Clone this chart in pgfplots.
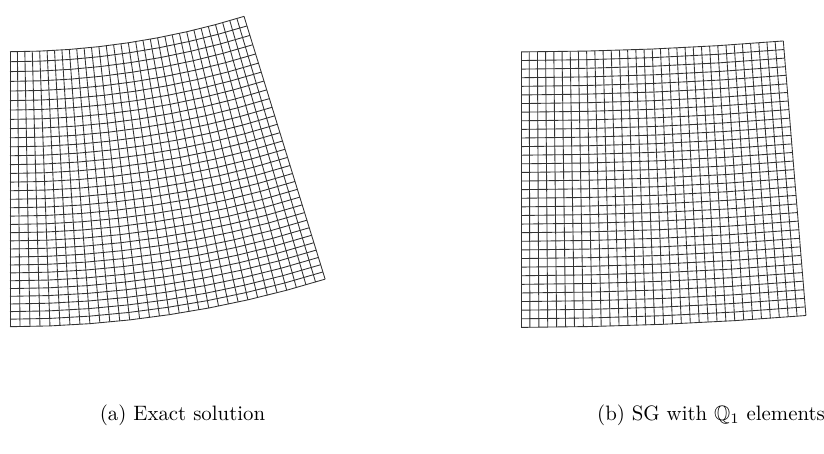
\documentclass[border=0pt]{standalone}
\usepackage{amssymb}
\usepackage{pgfplots}
\pgfplotsset{compat=1.18}
\begin{document}
\begin{tikzpicture}
\pgfplotsset{meshax/.style={at={(0,0)},anchor=south west,scale only axis,width=395.52pt,height=217.44pt,hide axis,clip=false},
 gl/.style={black!80,line width=0.42pt,mark=none,data cs=polar}}
% (a) exact solution: radial lines and rings (polar: angle in degrees, radius in px)
\begin{axis}[meshax,xmin=-10,xmax=814,ymin=-1195,ymax=-742]
\pgfplotsinvokeforeach{-90,-89.4641,-88.9281,-88.3922,-87.8563,-87.3203,-86.7844,-86.2484,-85.7125,-85.1766,-84.6406,-84.1047,-83.5688,-83.0328,-82.4969,-81.9609,-81.4250,-80.8891,-80.3531,-79.8172,-79.2813,-78.7453,-78.2094,-77.6734,-77.1375,-76.6016,-76.0656,-75.5297,-74.9938,-74.4578,-73.9219,-73.3859,-72.8500}{
\addplot[gl] coordinates {(#1,793.7) (#1,1068.7)};}
\pgfplotsinvokeforeach{793.70,803.72,813.62,823.39,833.05,842.61,852.05,861.39,870.63,879.78,888.83,897.78,906.65,915.44,924.14,932.76,941.30,949.76,958.15,966.47,974.71,982.89,990.99,999.04,1007.02,1014.93,1022.79,1030.58,1038.32,1045.99,1053.62,1061.19,1068.70}{
\addplot[gl] coordinates {(-90,#1) (-87.8563,#1) (-85.7125,#1) (-83.5688,#1) (-81.4250,#1) (-79.2813,#1) (-77.1375,#1) (-74.9938,#1) (-72.8500,#1)};}
\end{axis}
% (b) SG with Q1 elements
\begin{axis}[meshax,xmin=-521,xmax=303,ymin=-3593.6,ymax=-3140.6]
\pgfplotsinvokeforeach{-90,-89.8527,-89.7054,-89.5581,-89.4109,-89.2636,-89.1163,-88.9690,-88.8218,-88.6745,-88.5272,-88.3799,-88.2326,-88.0853,-87.9381,-87.7908,-87.6435,-87.4962,-87.3489,-87.2016,-87.0544,-86.9071,-86.7598,-86.6125,-86.4653,-86.3180,-86.1707,-86.0234,-85.8761,-85.7288,-85.5816,-85.4343,-85.2870}{
\addplot[gl] coordinates {(#1,3192.5) (#1,3468.0)};}
\pgfplotsinvokeforeach{3192.50,3201.11,3209.72,3218.33,3226.94,3235.55,3244.16,3252.77,3261.38,3269.98,3278.59,3287.20,3295.81,3304.42,3313.03,3321.64,3330.25,3338.86,3347.47,3356.08,3364.69,3373.30,3381.91,3390.52,3399.13,3407.73,3416.34,3424.95,3433.56,3442.17,3450.78,3459.39,3468.00}{
\addplot[gl] coordinates {(-90,#1) (-88.8218,#1) (-87.6435,#1) (-86.4653,#1) (-85.2870,#1)};}
\end{axis}
% captions
\begin{axis}[meshax,xmin=0,xmax=824,ymin=0,ymax=453,y dir=reverse]
\node at (axis cs:182.5,415) {(a) Exact solution};
\node at (axis cs:711,415) {(b) SG with $\mathbb{Q}_1$ elements};
\end{axis}
\pgfresetboundingbox
\path (0,0) rectangle (395.52pt,217.44pt);
\end{tikzpicture}
\end{document}
